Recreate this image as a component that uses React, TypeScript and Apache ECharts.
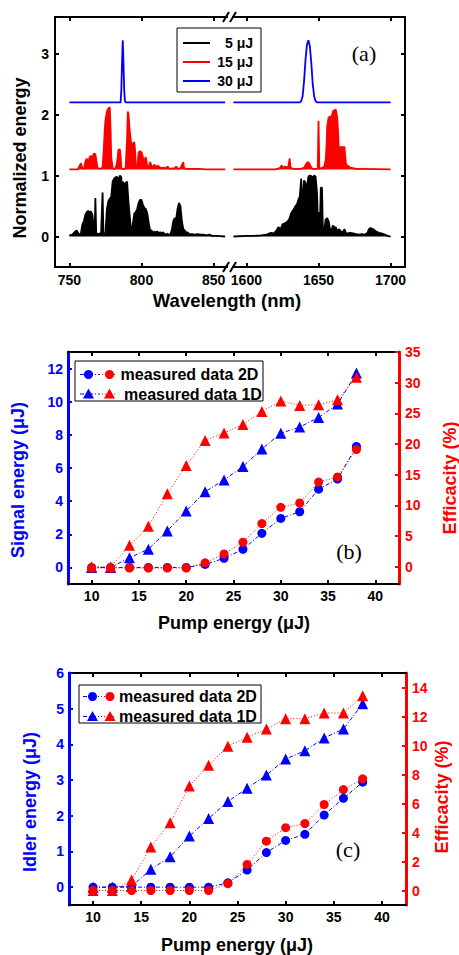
import React, { useEffect, useRef } from "react";
import * as echarts from "echarts";

// ---------- (a) spectra: [wavelength nm, normalized energy (offset)] ----------
const black5uJ_vis = [
  [750, 0.02], [752, 0.03], [754, 0.08], [755, 0.1], [756, 0.06], [757, 0.03], [758, 0.05], [759, 0.2],
  [760, 0.25], [761, 0.35], [762, 0.4], [763, 0.42], [764, 0.4], [765, 0.41], [766, 0.35], [767, 0.1],
  [767.5, 0.05], [768, 0.63], [768.6, 0.05], [770, 0.04], [771, 0.05], [772, 0.06], [773, 0.72], [773.6, 0.05],
  [775, 0.05], [776, 0.45], [777, 0.58], [778, 0.62], [779, 0.65], [780, 0.9], [781, 0.95], [782, 0.97],
  [783, 0.98], [784, 0.92], [785, 1.0], [786, 0.97], [786.5, 0.15], [787, 0.9], [788, 0.85], [789, 0.88],
  [790, 0.9], [791, 0.55], [792, 0.3], [793, 0.05], [794, 0.2], [795, 0.38], [796, 0.4], [797, 0.45],
  [798, 0.55], [799, 0.6], [800, 0.6], [801, 0.52], [802, 0.47], [803, 0.45], [804, 0.38], [805, 0.22],
  [806, 0.1], [807, 0.1], [808, 0.06], [809, 0.08], [810, 0.07], [811, 0.08], [812, 0.06], [813, 0.07],
  [814, 0.05], [815, 0.07], [816, 0.04], [817, 0.03], [818, 0.05], [819, 0.02], [820, 0.04], [821, 0.1],
  [822, 0.25], [823, 0.3], [824, 0.28], [825, 0.45], [826, 0.55], [827, 0.5], [828, 0.25], [829, 0.12],
  [830, 0.1], [831, 0.06], [832, 0.07], [833, 0.04], [835, 0.04], [837, 0.03], [839, 0.04], [841, 0.03],
  [843, 0.03], [845, 0.02], [847, 0.03], [849, 0.01], [852, 0.01], [858, 0],
];
const red15uJ_vis = [
  [750, 1.1], [756, 1.1], [757, 1.16], [758, 1.2], [759, 1.12], [760, 1.11], [761, 1.22], [762, 1.28],
  [763, 1.2], [764, 1.3], [765, 1.32], [766, 1.3], [767, 1.36], [768, 1.35], [769, 1.2], [769.5, 1.12],
  [771, 1.11], [772, 1.12], [773, 1.13], [774, 1.5], [774.5, 1.75], [775, 1.9], [776, 2.05], [777, 2.1],
  [778, 2.12], [778.6, 1.7], [779, 1.3], [780, 1.12], [781, 1.11], [782, 1.12], [783, 1.2], [784, 1.42],
  [785, 1.43], [785.6, 1.3], [786, 1.12], [787, 1.11], [788, 1.11], [789, 1.12], [790, 1.6], [790.5, 2.05],
  [791, 2.0], [791.6, 1.8], [792, 1.7], [793, 1.5], [793.5, 1.15], [794, 1.52], [795, 1.55], [795.6, 1.4],
  [796, 1.15], [797, 1.12], [798, 1.38], [799, 1.4], [800, 1.38], [801, 1.3], [801.5, 1.15], [802, 1.25],
  [803, 1.3], [804, 1.15], [805, 1.14], [806, 1.22], [807, 1.15], [808, 1.14], [809, 1.18], [810, 1.13],
  [811, 1.16], [812, 1.15], [813, 1.13], [814, 1.12], [815, 1.13], [816, 1.13], [817, 1.11], [818, 1.15],
  [819, 1.12], [820, 1.11], [822, 1.12], [823, 1.11], [824, 1.15], [825, 1.11], [827, 1.12], [829, 1.22],
  [829.5, 1.12], [831, 1.11], [835, 1.11], [840, 1.11], [845, 1.1], [858, 1.1],
];
const blue30uJ_vis = [
  [750, 2.2], [785.5, 2.2], [786, 2.4], [786.5, 2.85], [787, 3.22], [787.5, 2.85], [788, 2.4], [788.5, 2.22],
  [789, 2.2], [858, 2.2],
];
const black5uJ_ir = [
  [1591, 0], [1600, 0.01], [1605, 0.01], [1610, 0.02], [1614, 0.03], [1617, 0.06], [1619, 0.05], [1621, 0.1],
  [1622, 0.15], [1624, 0.13], [1625, 0.2], [1627, 0.22], [1629, 0.26], [1630, 0.3], [1631, 0.38], [1632, 0.42],
  [1633, 0.45], [1634, 0.5], [1635, 0.52], [1636, 0.6], [1637, 0.65], [1638, 0.95], [1638.6, 0.5], [1639, 0.6],
  [1640, 0.92], [1641, 0.88], [1641.6, 0.5], [1642, 0.8], [1643, 0.98], [1644, 1.0], [1645, 0.99], [1646, 0.97],
  [1647, 1.0], [1648, 0.98], [1649, 0.7], [1649.5, 0.3], [1650, 0.4], [1651, 0.2], [1651.6, 0.8], [1652.4, 0.8],
  [1653, 0.15], [1654, 0.1], [1655, 0.28], [1656, 0.3], [1657, 0.25], [1658, 0.12], [1659, 0.1], [1660, 0.18],
  [1661, 0.15], [1662, 0.15], [1663, 0.08], [1664, 0.12], [1665, 0.1], [1666, 0.07], [1667, 0.08], [1668, 0.12],
  [1669, 0.06], [1670, 0.05], [1672, 0.06], [1674, 0.05], [1676, 0.04], [1678, 0.03], [1680, 0.04], [1682, 0.03],
  [1684, 0.06], [1685, 0.12], [1686, 0.14], [1687, 0.13], [1688, 0.12], [1689, 0.1], [1690, 0.08], [1692, 0.06],
  [1694, 0.05], [1696, 0.03], [1698, 0.01], [1700, 0],
];
const red15uJ_ir = [
  [1591, 1.1], [1620, 1.1], [1623, 1.12], [1624.5, 1.17], [1625, 1.12], [1626.8, 1.15], [1628, 1.13], [1629, 1.14],
  [1630, 1.28], [1630.6, 1.13], [1632, 1.11], [1638, 1.11], [1640, 1.13], [1641, 1.17], [1642, 1.21], [1643, 1.22],
  [1644, 1.18], [1645, 1.13], [1646, 1.11], [1649.5, 1.11], [1650, 1.9], [1650.6, 1.11], [1652, 1.12], [1653, 1.13],
  [1654, 1.15], [1655, 1.25], [1655.6, 1.5], [1656, 1.8], [1657, 1.95], [1658, 1.97], [1659, 1.95], [1660, 2.05],
  [1661, 2.07], [1662, 2.08], [1663, 1.95], [1663.6, 1.7], [1664, 1.47], [1665, 1.46], [1666, 1.47], [1667, 1.46],
  [1668, 1.47], [1668.6, 1.3], [1669, 1.2], [1670, 1.16], [1671, 1.15], [1672, 1.13], [1674, 1.12], [1676, 1.11],
  [1680, 1.11], [1700, 1.1],
];
const blue30uJ_ir = [
  [1591, 2.2], [1637, 2.2], [1638, 2.22], [1639, 2.3], [1640, 2.55], [1641, 2.9], [1642, 3.15], [1643, 3.22],
  [1644, 3.12], [1645, 2.85], [1646, 2.5], [1647, 2.3], [1648, 2.22], [1649, 2.2], [1700, 2.2],
];
const legendA = ["5 μJ", "15 μJ", "30 μJ"];
const ticksVis = [750, 800, 850];
const ticksIr = [1600, 1650, 1700];
const ticksA_y = [0, 1, 2, 3];

// ---------- (b), (c) ----------
const pump = [10, 12, 14, 16, 18, 20, 22, 24, 26, 28, 30, 32, 34, 36, 38];
const signal2D = [0, 0, 0, 0, 0, 0, 0.18, 0.55, 1.09, 2.06, 2.96, 3.36, 4.72, 5.33, 7.3];
const signal1D = [0, 0, 0.58, 1.1, 2.2, 3.4, 4.57, 5.28, 6.09, 7.14, 8.1, 8.47, 9.05, 9.86, 11.73];
const effSignal2D = [-0.2, -0.2, -0.2, -0.2, -0.2, -0.2, 0.65, 2.1, 4.0, 7.05, 9.7, 10.4, 13.8, 14.65, 19.1];
const effSignal1D = [0, 0, 3.5, 6.6, 11.9, 16.5, 20.6, 21.8, 23.2, 25.3, 27.0, 26.3, 26.4, 27.2, 30.9];
const idler2D = [0, 0, 0, 0, 0, 0, 0, 0.12, 0.48, 0.97, 1.31, 1.48, 2.02, 2.49, 2.94];
const idler1D = [0, 0, 0.02, 0.5, 0.85, 1.43, 1.92, 2.4, 2.77, 3.14, 3.59, 3.82, 4.18, 4.43, 5.14];
const effIdler2D = [0, 0, 0, 0, 0, 0, 0, 0.47, 1.8, 3.4, 4.33, 4.62, 5.93, 6.96, 7.7];
const effIdler1D = [0, 0, 0.72, 3.0, 4.67, 7.2, 8.64, 9.95, 10.57, 11.14, 11.85, 11.85, 12.24, 12.24, 13.43];
const ticksPump = [10, 15, 20, 25, 30, 35, 40];
const ticksSignal = [0, 2, 4, 6, 8, 10, 12];
const ticksEffB = [0, 5, 10, 15, 20, 25, 30, 35];
const ticksIdler = [0, 1, 2, 3, 4, 5, 6];
const ticksEffC = [0, 2, 4, 6, 8, 10, 12, 14];
const legendBC = ["measured data 2D", "measured data 1D"];

const BLUE = "#0000ff";
const RED = "#ff0000";
const BLACK = "#000000";
const SANS = '"Liberation Sans", Arial, sans-serif';
const SERIF = '"Liberation Serif", "Times New Roman", serif';

function zip(xs: number[], ys: number[]) {
  return xs.map((x, i) => [x, ys[i]]);
}

const plain = (v: number) => String(v);

function xAx(grid: number, pos: "bottom" | "top", min: number, max: number, ticks: number[], labels: boolean, margin = 6) {
  return {
    type: "value",
    gridIndex: grid,
    position: pos,
    min,
    max,
    axisLine: { show: true, onZero: false, lineStyle: { color: BLACK, width: 2 } },
    axisTick: { show: true, inside: true, length: 4, customValues: ticks, lineStyle: { color: BLACK, width: 2 } },
    axisLabel: {
      show: labels,
      customValues: ticks,
      formatter: plain,
      margin,
      color: BLACK,
      fontFamily: SANS,
      fontWeight: "bold",
      fontSize: 14,
    },
    splitLine: { show: false },
    minorTick: { show: false },
  };
}

function yAx(grid: number, pos: "left" | "right", min: number, max: number, ticks: number[], labels: boolean, color: string, lw: number, margin = 6) {
  return {
    type: "value",
    gridIndex: grid,
    position: pos,
    min,
    max,
    axisLine: { show: true, onZero: false, lineStyle: { color, width: lw } },
    axisTick: { show: true, inside: true, length: 4, customValues: ticks, lineStyle: { color, width: 2 } },
    axisLabel: {
      show: labels,
      customValues: ticks,
      formatter: plain,
      margin,
      color,
      fontFamily: SANS,
      fontWeight: "bold",
      fontSize: 14,
    },
    splitLine: { show: false },
  };
}

function spectrum(data: number[][], xi: number, yi: number, color: string, fillOrigin: number | null) {
  const s: any = {
    type: "line",
    xAxisIndex: xi,
    yAxisIndex: yi,
    data,
    symbol: "none",
    showSymbol: false,
    lineStyle: { color, width: 1.8 },
    itemStyle: { color },
    silent: true,
  };
  if (fillOrigin !== null) s.areaStyle = { color, opacity: 1, origin: fillOrigin };
  return s;
}

function marks(xs: number[], ys: number[], xi: number, yi: number, color: string, symbol: string, dash: number[], z: number) {
  return {
    type: "line",
    xAxisIndex: xi,
    yAxisIndex: yi,
    data: zip(xs, ys),
    symbol,
    symbolSize: symbol === "circle" ? 9 : 11,
    showSymbol: true,
    lineStyle: { color, width: 1, type: dash },
    itemStyle: { color, borderWidth: 0 },
    z,
    silent: true,
  };
}

function txt(text: string, x: number, y: number, size: number, color: string, rot = 0, family = SANS, weight = "bold", align = "center") {
  return {
    type: "text",
    x,
    y,
    rotation: rot,
    silent: true,
    z: 100,
    style: {
      text,
      fill: color,
      font: `${weight} ${size}px ${family}`,
      textAlign: align,
      align,
      textVerticalAlign: "middle",
      verticalAlign: "middle",
    },
  };
}

function ln(x1: number, y1: number, x2: number, y2: number, color: string, width: number, dash?: number[]) {
  return {
    type: "line",
    silent: true,
    z: 100,
    shape: { x1, y1, x2, y2 },
    style: { stroke: color, lineWidth: width, lineDash: dash || null },
  };
}

function circ(cx: number, cy: number, color: string) {
  return { type: "circle", silent: true, z: 101, shape: { cx, cy, r: 4.5 }, style: { fill: color } };
}

function tri(cx: number, cy: number, color: string) {
  return {
    type: "polygon",
    silent: true,
    z: 101,
    shape: { points: [[cx, cy - 5.5], [cx + 5.5, cy + 4.5], [cx - 5.5, cy + 4.5]] },
    style: { fill: color },
  };
}

function legendBox(x: number, y: number, w: number, h: number) {
  return { type: "rect", silent: true, z: 99, shape: { x, y, width: w, height: h }, style: { fill: "#fff", stroke: BLACK, lineWidth: 1 } };
}

function legendPair(y1: number, y2: number, x0: number, xm: number, x1: number, bx: number, rx: number, tx1: number, tx2: number) {
  return [
    ln(x0, y1, xm, y1, BLUE, 1, [4, 2, 1, 2]),
    ln(xm, y1, x1, y1, RED, 1, [1, 2]),
    circ(bx, y1, BLUE),
    circ(rx, y1, RED),
    txt(legendBC[0], tx1, y1, 16, BLACK, 0, SANS, "bold", "left"),
    ln(x0, y2, xm, y2, BLUE, 1, [4, 2, 1, 2]),
    ln(xm, y2, x1, y2, RED, 1, [1, 2]),
    tri(bx, y2, BLUE),
    tri(rx, y2, RED),
    txt(legendBC[1], tx2, y2, 16, BLACK, 0, SANS, "bold", "left"),
  ];
}

export default function App() {
  const ref = useRef<HTMLDivElement>(null);
  useEffect(() => {
    if (!ref.current) return;
    const chart = echarts.init(ref.current, null, { renderer: "svg" });
    const R = Math.PI / 2;
    const option: any = {
      animation: false,
      backgroundColor: "#ffffff",
      grid: [
        { left: 55, top: 17, width: 173, height: 250, outerBoundsMode: "none" },
        { left: 232, top: 17, width: 173, height: 250, outerBoundsMode: "none" },
        { left: 68, top: 352, width: 331, height: 232, outerBoundsMode: "none" },
        { left: 69, top: 673, width: 337, height: 232, outerBoundsMode: "none" },
      ],
      xAxis: [
        xAx(0, "bottom", 740, 860, ticksVis, true),
        xAx(0, "top", 740, 860, ticksVis, false),
        xAx(1, "bottom", 1590, 1710, ticksIr, true),
        xAx(1, "top", 1590, 1710, ticksIr, false),
        xAx(2, "bottom", 7.5, 42.5, ticksPump, true, 5),
        xAx(2, "top", 7.5, 42.5, ticksPump, false),
        xAx(3, "bottom", 7.5, 42.5, ticksPump, true, 5),
        xAx(3, "top", 7.5, 42.5, ticksPump, false),
      ],
      yAxis: [
        yAx(0, "left", -0.5, 3.6, ticksA_y, true, BLACK, 2, 6),
        yAx(1, "right", -0.5, 3.6, ticksA_y, false, BLACK, 2),
        yAx(2, "left", -1, 13, ticksSignal, true, BLUE, 3, 5),
        yAx(2, "right", -2.8, 35, ticksEffB, true, RED, 3, 6),
        yAx(3, "left", -0.5, 6, ticksIdler, true, BLUE, 3, 5),
        yAx(3, "right", -1, 15, ticksEffC, true, RED, 3, 6),
      ],
      series: [
        spectrum(black5uJ_vis, 0, 0, BLACK, 0),
        spectrum(red15uJ_vis, 0, 0, RED, 1.1),
        spectrum(blue30uJ_vis, 0, 0, BLUE, null),
        spectrum(black5uJ_ir, 2, 1, BLACK, 0),
        spectrum(red15uJ_ir, 2, 1, RED, 1.1),
        spectrum(blue30uJ_ir, 2, 1, BLUE, null),
        marks(pump, signal2D, 4, 2, BLUE, "circle", [4, 2, 1, 2], 3),
        marks(pump, signal1D, 4, 2, BLUE, "triangle", [4, 2, 1, 2], 3),
        marks(pump, effSignal2D, 4, 3, RED, "circle", [1, 2], 4),
        marks(pump, effSignal1D, 4, 3, RED, "triangle", [1, 2], 4),
        marks(pump, idler2D, 6, 4, BLUE, "circle", [4, 2, 1, 2], 3),
        marks(pump, idler1D, 6, 4, BLUE, "triangle", [4, 2, 1, 2], 3),
        marks(pump, effIdler2D, 6, 5, RED, "circle", [1, 2], 4),
        marks(pump, effIdler1D, 6, 5, RED, "triangle", [1, 2], 4),
      ],
      graphic: {
        elements: [
          // axis break marks
          { type: "rect", silent: true, z: 98, shape: { x: 228, y: 10, width: 4, height: 14 }, style: { fill: "#fff" } },
          { type: "rect", silent: true, z: 98, shape: { x: 228, y: 260, width: 4, height: 14 }, style: { fill: "#fff" } },
          ln(223, 22, 229, 12, BLACK, 2),
          ln(230, 22, 236, 12, BLACK, 2),
          ln(223, 272, 229, 262, BLACK, 2),
          ln(230, 272, 236, 262, BLACK, 2),
          // (a) legend
          legendBox(177, 28, 84, 64),
          ln(183, 43, 210, 43, BLACK, 2),
          ln(183, 62, 210, 62, RED, 2),
          ln(183, 81, 210, 81, BLUE, 2),
          txt(legendA[0], 253, 43, 14, BLACK, 0, SANS, "bold", "right"),
          txt(legendA[1], 253, 62, 14, BLACK, 0, SANS, "bold", "right"),
          txt(legendA[2], 253, 81, 14, BLACK, 0, SANS, "bold", "right"),
          // (b) legend
          legendBox(75, 361, 188, 40),
          ...legendPair(374.5, 394, 80, 99, 117, 88.5, 109.5, 120.5, 124),
          // (c) legend
          legendBox(79, 685, 182, 38),
          ...legendPair(696.5, 716.5, 83, 101, 115, 92.5, 110, 119, 119),
          // axis titles
          txt("Normalized energy", 20, 158, 18, BLACK, R),
          txt("Wavelength (nm)", 227, 300, 18.5, BLACK),
          txt("Signal energy (μJ)", 18, 480, 18, BLUE, R),
          txt("Efficacity (%)", 450, 478, 18, RED, R),
          txt("Pump energy (μJ)", 234, 623, 18, BLACK),
          txt("Idler energy (μJ)", 29.5, 802, 18, BLUE, R),
          txt("Efficacity (%)", 442, 797, 18, RED, R),
          txt("Pump energy (μJ)", 237, 945, 18, BLACK),
          // panel tags
          txt("(a)", 364, 53, 22, BLACK, 0, SERIF, "normal"),
          txt("(b)", 349, 551, 22, BLACK, 0, SERIF, "normal"),
          txt("(c)", 348, 849, 22, BLACK, 0, SERIF, "normal"),
        ],
      },
    };
    chart.setOption(option);
    return () => chart.dispose();
  }, []);
  return <div ref={ref} style={{ position: "absolute", left: 0, top: 0, width: 459, height: 955 }} />;
}
